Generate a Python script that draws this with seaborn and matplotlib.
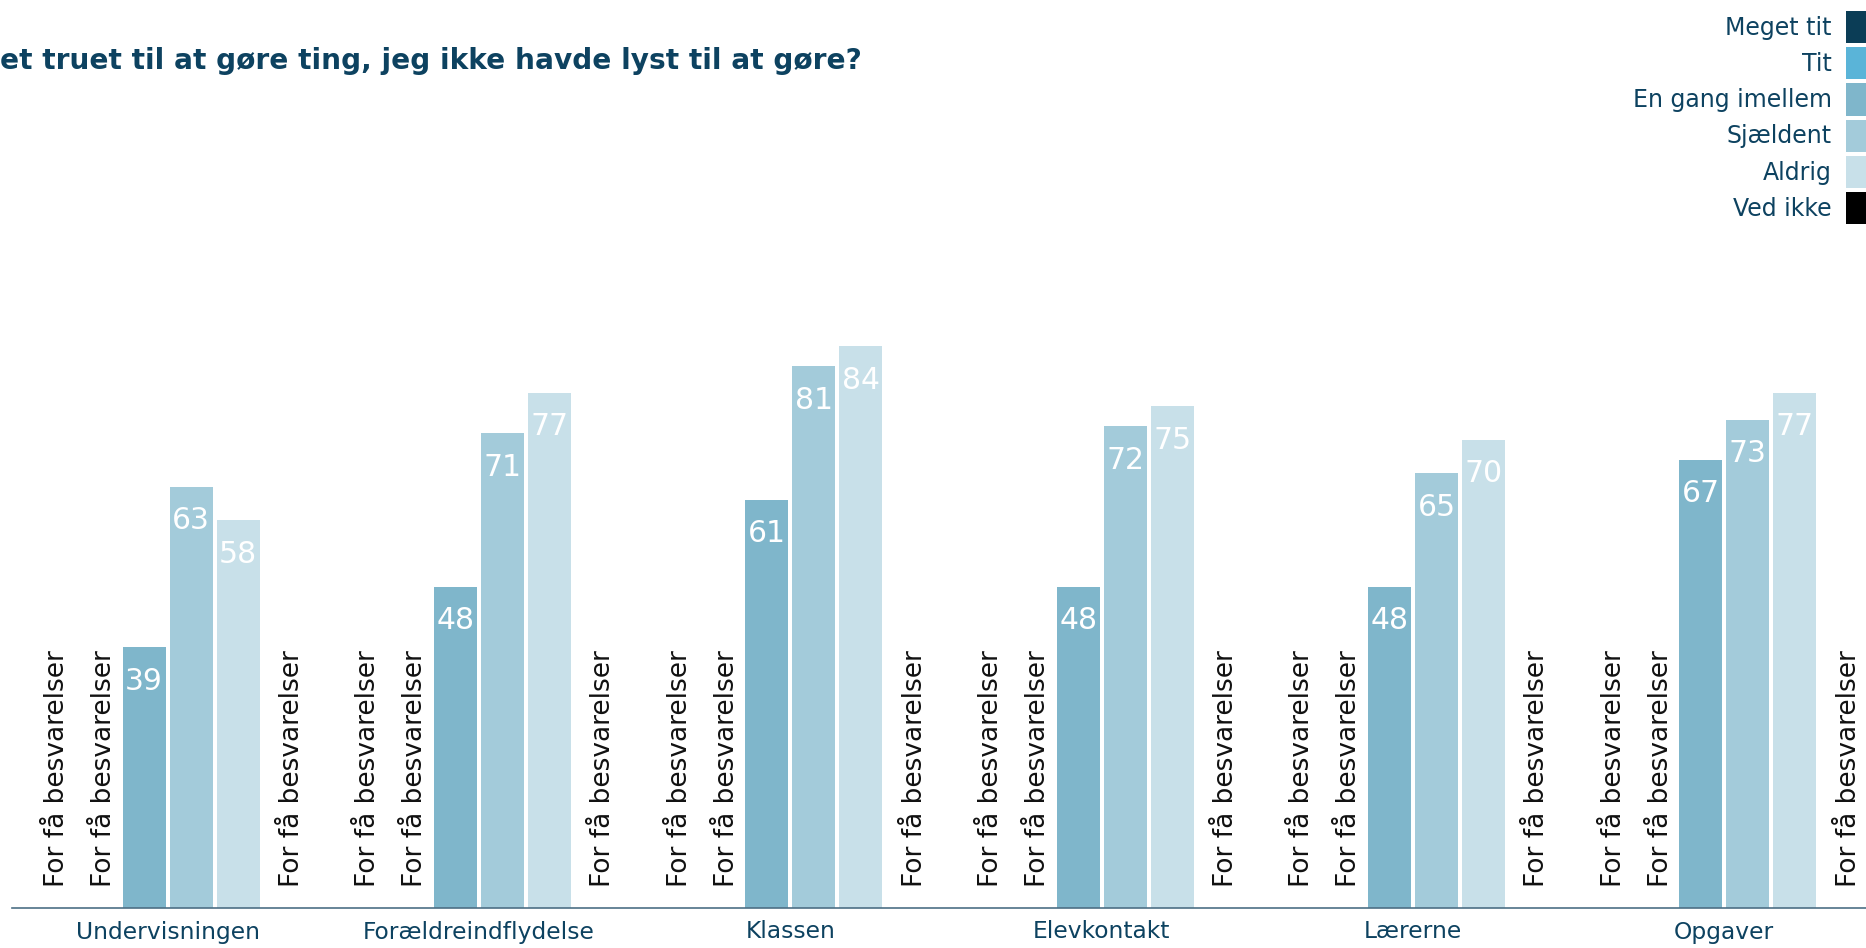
import numpy as np
import pandas as pd
import matplotlib
matplotlib.use("Agg")
import matplotlib.pyplot as plt
from matplotlib.patches import Patch
import seaborn as sns

# ---- data ----
categories = ["Undervisningen", "Forældreindflydelse", "Klassen",
              "Elevkontakt", "Lærerne", "Opgaver"]
answers = ["Meget tit", "Tit", "En gang imellem", "Sjældent", "Aldrig", "Ved ikke"]
colors = ["#0b3d56", "#5ab4d8", "#7fb6cb", "#a3cbda", "#c8e0e9", "#000000"]

meget_tit = [None] * 6
tit = [None] * 6
en_gang = [39, 48, 61, 48, 48, 67]
sjaeldent = [63, 71, 81, 72, 65, 73]
aldrig = [58, 77, 84, 75, 70, 77]
ved_ikke = [None] * 6

title = "et truet til at gøre ting, jeg ikke havde lyst til at gøre?"
too_few = "For få besvarelser"

series = [meget_tit, tit, en_gang, sjaeldent, aldrig, ved_ikke]
rows = []
for ans, vals in zip(answers, series):
    for cat, v in zip(categories, vals):
        if v is not None:
            rows.append({"kategori": cat, "svar": ans, "pct": v})
df = pd.DataFrame(rows)

text_col = "#0d4260"

sns.set_style("white")
plt.rcParams["font.family"] = ["DejaVu Sans"]

fig = plt.figure(figsize=(18.66, 9.48), dpi=100)
W, H = 1866, 948
base_px = 908
ax = fig.add_axes([12 / W, (H - base_px) / H, (W - 12) / W, 669 / H])

sns.barplot(data=df, x="kategori", y="pct", hue="svar",
            order=categories, hue_order=answers, palette=colors,
            width=0.906, gap=0.085, legend=False, ax=ax,
            errorbar=None, saturation=1, linewidth=0)

ax.set_xlim(-0.5, 5.455)
ax.set_ylim(0, 100)

# value labels inside bar tops
for cont in ax.containers:
    labs = ax.bar_label(cont, fmt="%d", label_type="edge", padding=-24.5,
                        color="white", fontsize=21.5)
    for t in labs:
        t.set_va("center")

# "too few answers" for missing slots
n = len(answers)
slot = 0.906 / n
for j, vals in enumerate(series):
    for i, v in enumerate(vals):
        if v is None:
            x = i + (j - (n - 1) / 2) * slot
            ax.annotate(too_few, xy=(x, 0), xytext=(5, 15),
                        textcoords="offset points", rotation=90,
                        ha="center", va="bottom", fontsize=19,
                        color="#111111")

sns.despine(ax=ax, left=True, top=True, right=True)
ax.spines["bottom"].set_color("#4d6f85")
ax.spines["bottom"].set_linewidth(1.2)
ax.set_yticks([])
ax.set_xlabel("")
ax.set_ylabel("")
ax.tick_params(axis="x", length=0, pad=9, labelsize=16.8, labelcolor=text_col)

fig.text(0.0, 1 - 61 / H, title, ha="left", va="center",
         fontsize=20.2, fontweight="bold", color=text_col)

handles = [Patch(facecolor=c, edgecolor="none", label=a)
           for a, c in zip(answers, colors)]
fig.legend(handles=handles, loc="upper right", bbox_to_anchor=(1.0, 1 - 11 / H),
           frameon=False, markerfirst=False, fontsize=17,
           handlelength=0.85, handleheight=1.72, labelspacing=0.17,
           handletextpad=0.6, borderpad=0, borderaxespad=0,
           labelcolor=text_col)

fig.savefig("out.png", dpi=100)
